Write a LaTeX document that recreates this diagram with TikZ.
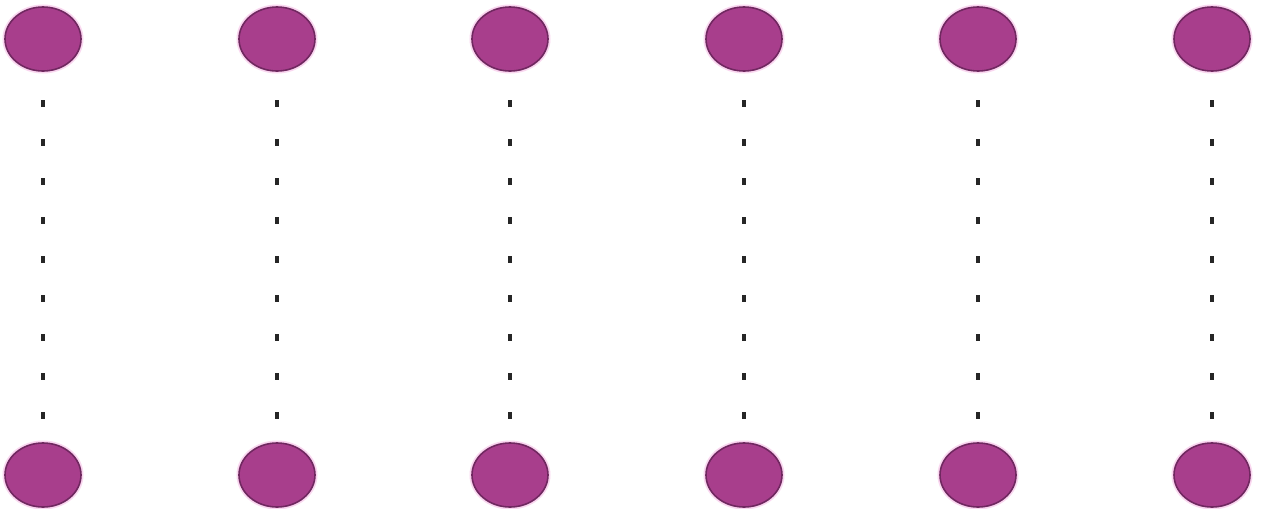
\documentclass[tikz,border=0pt]{standalone}
\usetikzlibrary{shapes.geometric}
\definecolor{blobfill}{RGB}{168,62,140}
\definecolor{blobedge}{RGB}{112,40,96}
\definecolor{halo}{RGB}{250,215,240}
\begin{document}
\begin{tikzpicture}[x=1pt,y=-1pt,
  blob/.style={ellipse, draw=blobedge, line width=1.6pt, fill=blobfill,
    minimum width=76pt, minimum height=64pt, inner sep=0pt,
    preaction={draw=halo, line width=5pt}},
  dotline/.style={line width=4pt, black!85, dash pattern=on 7pt off 32pt, dash phase=10.5pt}]
\useasboundingbox[fill=white] (0,0) rectangle (1262,509);
\foreach \i/\x in {1/43,2/277,3/510,4/744,5/978,6/1212}{
  \node[blob] (t\i) at (\x,39) {};
  \node[blob] (b\i) at (\x,475) {};
  \draw[dotline] (t\i.south) -- (b\i.north);
}
\end{tikzpicture}
\end{document}
